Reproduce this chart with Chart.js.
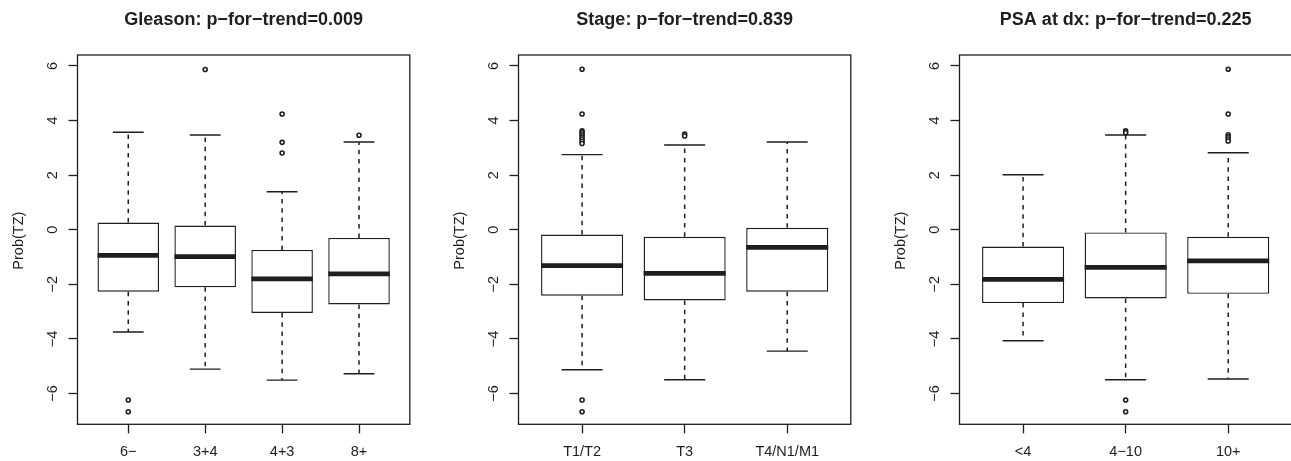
<!DOCTYPE html>
<html>
<head>
<meta charset="utf-8">
<script src="https://cdn.jsdelivr.net/npm/chart.js@4/dist/chart.umd.min.js"></script>
<style>
  html, body { margin: 0; padding: 0; background: #fff; overflow: hidden; }
  #wrap { position: relative; width: 1291px; height: 461px; overflow: hidden; }
  canvas { position: absolute; top: 0; }
</style>
</head>
<body>
<div id="wrap">
  <canvas id="gleason" width="441" height="461" style="left:0px"></canvas>
  <canvas id="stage" width="441" height="461" style="left:441px"></canvas>
  <canvas id="psa" width="441" height="461" style="left:882px"></canvas>
</div>
<script>
// values (Prob(TZ) scale)
const gleasonLabels = ["6\u2212", "3+4", "4+3", "8+"];
const gleasonLow = [-3.75, -5.11, -5.51, -5.28];
const gleasonQ1 = [-2.27, -2.11, -3.05, -2.74];
const gleasonMedian = [-0.94, -0.99, -1.80, -1.62];
const gleasonQ3 = [0.26, 0.15, -0.74, -0.30];
const gleasonHigh = [3.57, 3.47, 1.39, 3.21];
const gleasonOutliers = [[-6.24, -6.67], [5.87], [4.24, 3.20, 2.81], [3.46]];

const stageLabels = ["T1/T2", "T3", "T4/N1/M1"];
const stageLow = [-5.13, -5.50, -4.45];
const stageQ1 = [-2.42, -2.59, -2.27];
const stageMedian = [-1.32, -1.60, -0.65];
const stageQ3 = [-0.18, -0.26, 0.07];
const stageHigh = [2.75, 3.10, 3.21];
const stageOutliers = [
  [5.88, 4.24, 3.62, 3.55, 3.48, 3.40, 3.32, 3.24, 3.16, -6.24, -6.67],
  [3.50, 3.43],
  []
];

const psaLabels = ["<4", "4\u221210", "10+"];
const psaLow = [-4.07, -5.50, -5.47];
const psaQ1 = [-2.69, -2.52, -2.35];
const psaMedian = [-1.82, -1.38, -1.14];
const psaQ3 = [-0.62, -0.10, -0.26];
const psaHigh = [2.01, 3.47, 2.82];
const psaOutliers = [[], [3.62, 3.55, -6.24, -6.67], [5.88, 4.24, 3.48, 3.40, 3.32, 3.25]];

const yTicks = [-6, -4, -2, 0, 2, 4, 6];
const yMin = -7.13;
const yMax = 6.40;
const yTitle = "Prob(TZ)";

const FONT = "'Liberation Sans', Arial, Helvetica, sans-serif";
const INK = "#1e1e1e";

// frame box + rotated y tick labels and y title, like R's base graphics
const rAxisPlugin = {
  id: "rAxis",
  afterDraw(chart) {
    const ctx = chart.ctx;
    const area = chart.chartArea;
    const y = chart.scales.y;
    ctx.save();
    ctx.strokeStyle = INK;
    ctx.lineWidth = 1.3;
    ctx.strokeRect(area.left, area.top, area.right - area.left, area.bottom - area.top);

    ctx.fillStyle = INK;
    ctx.font = "14.5px " + FONT;
    ctx.textAlign = "center";
    ctx.textBaseline = "middle";
    yTicks.forEach((v) => {
      ctx.save();
      ctx.translate(area.left - 25, y.getPixelForValue(v));
      ctx.rotate(-Math.PI / 2);
      ctx.fillText(String(v).replace("-", "\u2212"), 0, 0);
      ctx.restore();
    });
    ctx.save();
    ctx.translate(area.left - 58.5, (area.top + area.bottom) / 2 + 1);
    ctx.rotate(-Math.PI / 2);
    ctx.fillText(yTitle, 0, 0);
    ctx.restore();
    ctx.restore();
  },
};

function makeBoxplot(canvasId, title, labels, low, q1, median, q3, high, outliers) {
  const n = labels.length;
  const pad = 0.04 * n;

  const boxes = [];
  const medians = [];
  const whiskers = [];
  const caps = [];
  const points = [];
  labels.forEach((lab, i) => {
    const x = i + 1;
    boxes.push({ x: x, y: [q1[i], q3[i]] });
    medians.push({ x: x - 0.4, y: median[i] }, { x: x + 0.4, y: median[i] }, { x: x, y: null });
    whiskers.push(
      { x: x, y: q3[i] }, { x: x, y: high[i] }, { x: x, y: null },
      { x: x, y: q1[i] }, { x: x, y: low[i] }, { x: x, y: null }
    );
    caps.push(
      { x: x - 0.2, y: high[i] }, { x: x + 0.2, y: high[i] }, { x: x, y: null },
      { x: x - 0.2, y: low[i] }, { x: x + 0.2, y: low[i] }, { x: x, y: null }
    );
    outliers[i].forEach((v) => points.push({ x: x, y: v }));
  });

  const lineBase = { type: "line", pointRadius: 0, spanGaps: false, borderColor: INK, fill: false };

  return new Chart(document.getElementById(canvasId), {
    type: "bar",
    data: {
      datasets: [
        Object.assign({}, lineBase, { label: "median", data: medians, borderWidth: 4.8, order: 0 }),
        {
          type: "scatter",
          label: "outliers",
          data: points,
          pointStyle: "circle",
          pointRadius: 2,
          pointBorderWidth: 1.6,
          pointBorderColor: INK,
          pointBackgroundColor: "#fff",
          order: 1,
        },
        Object.assign({}, lineBase, { label: "caps", data: caps, borderWidth: 1.4, order: 2 }),
        Object.assign({}, lineBase, {
          label: "whiskers",
          data: whiskers,
          borderWidth: 1.5,
          borderDash: [4.5, 4.8],
          order: 3,
        }),
        {
          type: "bar",
          label: "box",
          data: boxes,
          backgroundColor: "#fff",
          borderColor: INK,
          borderWidth: 1.4,
          borderSkipped: false,
          barPercentage: 0.8,
          categoryPercentage: 1.0,
          order: 4,
        },
      ],
    },
    options: {
      responsive: false,
      animation: false,
      devicePixelRatio: 1,
      layout: { padding: { left: 0, right: 31.2, top: 0, bottom: 0 } },
      plugins: {
        legend: { display: false },
        tooltip: { enabled: false },
        title: {
          display: true,
          fullSize: false,
          text: title,
          color: INK,
          font: { family: FONT, size: 18, weight: "bold" },
          padding: { top: 9.5, bottom: 23.9 },
        },
      },
      scales: {
        x: {
          type: "linear",
          min: 1 - 0.5 - pad,
          max: n + 0.5 + pad,
          offset: false,
          afterBuildTicks: (scale) => {
            scale.ticks = labels.map((l, i) => ({ value: i + 1 }));
          },
          afterFit: (scale) => {
            scale.height = 36.7;
          },
          ticks: {
            autoSkip: false,
            maxRotation: 0,
            padding: 9.5,
            color: INK,
            font: { family: FONT, size: 14.5 },
            callback: (v) => labels[Math.round(v) - 1],
          },
          grid: {
            offset: false,
            drawOnChartArea: false,
            drawTicks: true,
            tickLength: 9,
            tickWidth: 1.3,
            tickColor: INK,
          },
          border: { display: false },
        },
        y: {
          type: "linear",
          min: yMin,
          max: yMax,
          afterBuildTicks: (scale) => {
            scale.ticks = yTicks.map((v) => ({ value: v }));
          },
          afterFit: (scale) => {
            scale.width = 77.5;
          },
          ticks: { display: false },
          grid: {
            drawOnChartArea: false,
            drawTicks: true,
            tickLength: 9,
            tickWidth: 1.3,
            tickColor: INK,
          },
          border: { display: false },
        },
      },
    },
    plugins: [rAxisPlugin],
  });
}

makeBoxplot("gleason", "Gleason: p\u2212for\u2212trend=0.009", gleasonLabels,
  gleasonLow, gleasonQ1, gleasonMedian, gleasonQ3, gleasonHigh, gleasonOutliers);
makeBoxplot("stage", "Stage: p\u2212for\u2212trend=0.839", stageLabels,
  stageLow, stageQ1, stageMedian, stageQ3, stageHigh, stageOutliers);
makeBoxplot("psa", "PSA at dx: p\u2212for\u2212trend=0.225", psaLabels,
  psaLow, psaQ1, psaMedian, psaQ3, psaHigh, psaOutliers);
</script>
</body>
</html>
